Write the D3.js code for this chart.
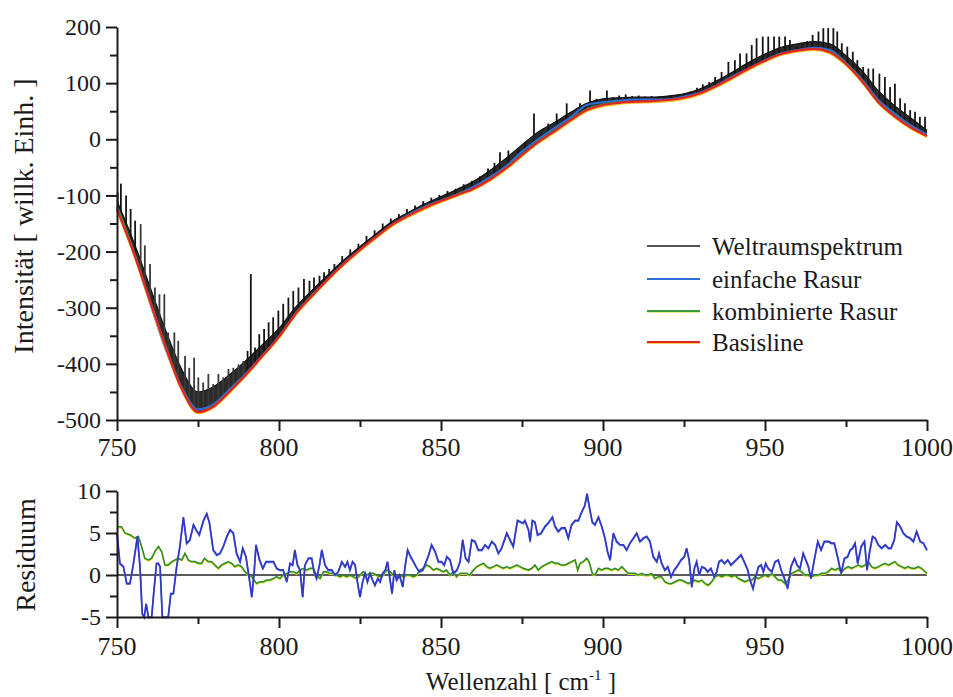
<!DOCTYPE html>
<html><head><meta charset="utf-8">
<script src="https://cdn.jsdelivr.net/npm/d3@7"></script>
</head><body style="margin:0;background:#fff">
<svg id="c" width="953" height="697" font-family="Liberation Serif"></svg>
<script>
// ---------- DATA ----------
const wavenumbers = [750,755,760,765,770,775,780,785,790,795,800,805,810,815,820,825,830,835,840,845,850,855,860,865,870,875,880,885,890,895,900,905,910,915,920,925,930,935,940,945,950,955,960,965,970,975,980,985,990,995,1000];
const basisline = [-125,-200,-285,-370,-445,-486,-475,-448,-418,-385,-352,-312,-280,-250,-222,-197,-174,-152,-136,-122,-110,-99,-88,-72,-52,-28,-5,14,34,52,61,65,67,68,70,74,82,95,110,126,140,152,158,161,155,134,103,66,41,21,6];
const einfacheRasur = [-121,-199,-288,-374,-442,-481,-471,-444,-416,-384,-351,-311,-279,-249,-221,-197,-174,-152,-134,-120,-109,-98,-85,-68,-48,-22,0,20,39,61,66,69,71,71,71,76,83,96,112,126,141,153,159,163,159,136,106,70,46,25,9];
const kombinierteRasur = [-119,-196,-283,-368,-443,-485,-474,-447,-418,-386,-352,-312,-279,-250,-222,-197,-174,-152,-136,-121,-110,-98,-88,-71,-51,-27,-4,15,35,54,62,66,67,68,69,74,81,95,110,126,140,152,158,161,156,135,104,67,42,22,6];
const spektrumBand = [-110,-180,-260,-340,-410,-450,-440,-418,-393,-365,-337,-300,-270,-242,-215,-191,-168,-146,-130,-115,-102,-89,-75,-56,-34,-10,13,30,48,64,72,74,75,75,77,81,90,104,120,137,152,164,170,174,170,149,122,86,60,38,16];

const linienX = [750.2,751.2,752.8,754.2,755.6,757.3,758.6,760.2,761.7,763.1,764.6,765.8,767.7,768.9,771.0,772.3,773.8,775.1,776.6,778.2,779.7,781.3,782.8,784.4,785.9,787.5,789.0,790.3,791.3,792.6,793.9,795.4,796.8,798.2,799.8,801.3,802.9,804.4,806.0,807.7,809.4,810.8,812.5,813.9,815.5,817.1,819.5,822.0,824.5,827.0,829.5,832.0,834.5,837.0,839.5,842.0,844.5,847.0,849.5,852.0,854.5,857.0,859.5,862.0,864.5,866.5,868.2,870.8,873.9,876.0,878.7,881.0,883.1,885.7,887.5,888.8,890.5,892.9,894.5,896.0,898.0,901.2,903.0,905.0,907.0,909.0,911.0,913.0,915.0,917.0,919.0,921.0,923.0,925.0,927.0,929.0,930.8,932.8,934.6,936.6,938.7,940.7,942.3,944.3,945.9,947.4,949.3,951.0,952.8,954.4,956.2,957.7,959.8,961.5,963.0,964.7,966.5,968.0,969.5,971.1,972.3,973.7,975.4,977.1,978.5,980.3,981.9,983.4,985.3,987.0,988.6,990.1,991.7,993.2,994.8,996.3,997.8,999.4];
const linienSpitze = [-95,-79,-100,-124,-145,-151,-189,-222,-264,-276,-276,-344,-344,-359,-386,-407,-389,-424,-433,-418,-436,-418,-424,-409,-407,-401,-395,-377,-240,-371,-347,-338,-326,-317,-305,-293,-282,-270,-264,-249,-252,-246,-243,-237,-231,-222,-208,-196,-186,-172,-162,-150,-141,-133,-124,-118,-110,-104,-99,-92,-88,-80,-74,-66,-52,-42,-23,-20,-18,-5,46,10,28,46,35,64,45,64,60,87,72,87,75,78,80,77,78,76,77,75,77,78,80,82,85,92,98,102,111,120,138,141,153,153,168,180,183,183,183,183,183,177,165,170,175,186,192,198,198,198,192,171,165,156,141,129,126,126,117,111,93,99,73,64,52,49,40,40];

const residEinfachX = [750.0,750.9,752.0,753.0,754.0,755.0,756.3,757.1,757.8,758.4,759.0,759.7,760.7,761.4,762.2,762.8,763.3,764.0,765.1,765.8,766.6,767.4,768.4,769.4,770.5,771.5,772.5,773.6,774.4,775.4,776.7,777.7,778.5,779.7,780.8,781.8,782.8,783.9,784.9,785.9,786.9,788.0,788.8,789.8,790.9,791.6,792.3,792.9,794.0,795.0,796.0,797.0,798.3,799.3,800.3,801.3,802.4,803.4,804.2,804.9,805.7,806.5,807.3,808.0,809.1,810.1,810.8,811.6,812.5,813.2,814.2,815.2,816.3,817.3,818.3,819.4,820.4,821.1,821.9,822.7,823.5,824.2,825.0,825.8,826.6,827.3,828.1,828.9,829.6,830.5,831.2,832.0,832.8,833.5,834.3,834.9,835.6,836.3,837.2,838.2,838.9,839.7,840.6,841.5,842.3,843.3,844.4,845.4,846.2,847.1,848.2,849.2,850.2,851.0,851.8,852.8,853.8,854.9,855.9,856.7,857.6,858.5,859.5,860.5,861.5,862.6,863.6,864.6,865.7,866.7,867.7,868.7,870.3,871.3,872.3,873.6,874.6,875.4,875.9,877.0,877.5,878.2,879.0,879.8,880.9,882.1,883.1,884.4,885.2,886.2,887.2,888.3,889.3,890.3,891.4,892.4,893.4,894.4,895.1,895.7,896.7,897.5,898.6,899.6,900.6,901.4,902.2,903.2,904.2,905.3,906.3,907.3,908.3,909.4,910.4,911.4,912.5,913.5,914.5,915.5,916.6,917.3,918.1,919.1,920.0,921.0,922.0,923.1,924.1,925.1,925.8,926.6,927.4,928.2,928.9,929.7,930.5,931.5,932.3,933.3,934.3,935.1,935.8,936.6,937.5,938.5,939.5,940.5,941.6,942.6,943.6,944.7,945.4,946.3,947.1,948.0,948.8,949.5,950.2,951.0,952.1,953.1,954.1,955.0,956.0,957.0,958.0,959.1,959.9,960.8,961.8,962.6,963.4,964.2,965.2,966.3,967.3,968.3,969.6,970.6,971.4,972.5,973.5,974.5,975.5,976.3,977.0,977.8,978.6,979.7,980.7,981.5,982.3,983.2,984.0,985.0,986.0,987.1,988.1,988.9,989.9,990.7,991.7,992.7,993.7,994.8,995.8,996.8,997.9,998.9,1000.0];
const residEinfach = [5.0,1.4,1.0,-1.0,-1.0,1.2,4.6,1.0,-4.6,-5.0,-3.4,-5.0,-5.0,-1.8,1.4,1.4,1.0,-5.0,-5.0,-5.0,-2.2,-2.2,1.0,3.4,6.9,3.8,4.2,6.0,5.4,4.8,6.5,7.3,6.3,3.0,2.4,2.6,3.4,4.6,5.4,5.0,2.6,1.6,3.2,2.2,-0.6,-2.6,0.2,3.6,1.8,0.8,1.6,1.6,1.6,0.8,0.6,0.6,-0.8,1.4,1.2,3.0,1.2,0.6,-2.6,1.2,2.0,2.0,0.4,-0.4,1.2,3.0,1.2,0.6,0.6,0.0,0.4,1.6,1.0,1.6,0.6,1.6,1.2,-0.8,-2.6,-0.8,0.2,-0.8,0.2,-0.6,-1.2,-0.4,-0.8,0.2,0.6,1.6,-0.6,-2.2,0.6,-0.6,0.0,-1.4,1.0,3.0,2.2,1.6,1.0,0.4,0.6,1.6,2.4,3.6,2.8,1.6,1.6,1.2,2.2,1.8,0.2,0.6,1.6,4.2,2.0,1.6,4.2,4.0,3.0,3.0,3.6,3.2,4.0,3.6,2.6,3.2,5.0,4.2,3.4,6.5,6.3,6.2,6.5,5.4,4.0,6.5,6.3,4.8,5.0,5.8,6.2,6.9,5.8,5.2,5.6,5.6,4.4,6.0,6.5,6.5,7.5,8.3,9.7,8.3,6.3,6.0,6.9,5.8,4.4,2.8,1.8,5.0,4.0,3.6,3.6,3.0,3.8,4.4,5.0,4.0,4.4,4.6,4.0,2.2,1.6,2.6,1.4,0.6,1.0,-0.2,0.6,1.2,1.8,2.2,3.2,1.8,-1.4,0.8,1.6,0.0,1.0,0.8,0.4,0.8,-0.2,0.4,1.6,1.8,1.4,1.8,1.2,1.6,2.0,2.4,1.6,0.6,-0.6,-1.6,-0.2,1.0,1.2,0.4,1.4,0.8,0.4,1.6,1.8,0.6,-0.4,-1.6,1.0,2.0,1.2,0.8,2.6,1.8,1.0,-0.4,1.8,4.0,3.0,4.0,4.0,3.8,3.8,2.0,0.2,2.0,2.2,3.0,3.2,3.8,1.4,3.4,4.0,0.6,2.8,4.6,4.4,3.6,3.2,3.6,3.2,3.2,4.2,6.3,5.8,5.0,4.6,4.4,4.0,5.2,4.0,3.8,3.0];

const residKombiX = [750.0,751.4,752.5,754.0,755.6,756.6,757.6,758.6,759.7,760.7,761.7,762.8,763.8,764.8,765.8,766.9,767.9,768.9,770.0,771.0,772.0,773.0,774.1,775.1,776.1,777.0,778.2,779.2,780.2,781.3,782.3,783.3,784.4,785.4,786.4,787.4,788.5,789.5,790.5,791.6,792.3,793.1,794.1,795.2,796.2,797.2,798.3,799.3,800.3,801.3,802.4,803.4,804.4,805.5,806.5,807.5,808.5,809.6,810.6,811.6,812.7,813.7,814.7,815.7,816.8,817.8,818.8,819.9,820.9,821.9,822.9,824.0,825.0,826.0,827.1,828.1,829.1,830.1,831.2,832.2,833.2,834.3,835.3,836.3,837.3,838.4,839.4,840.4,841.5,842.5,843.5,844.5,845.6,846.6,847.6,848.7,849.7,850.7,851.7,852.8,853.8,854.8,855.9,856.9,857.9,858.9,860.0,861.0,862.0,863.1,864.1,865.1,866.1,867.2,868.2,869.2,870.3,871.3,872.3,873.4,874.4,875.4,877.0,878.0,879.0,880.0,881.1,882.1,883.1,884.2,885.2,886.2,887.2,888.3,889.3,890.3,891.4,892.2,892.9,893.9,895.0,895.7,896.7,897.5,898.6,899.6,900.6,901.6,902.7,903.7,904.7,905.8,906.8,907.8,908.8,909.9,910.9,911.9,913.0,914.0,915.0,916.0,917.1,918.1,919.1,920.2,921.2,922.2,923.3,924.3,925.3,926.3,927.4,928.4,929.4,930.5,931.5,932.5,933.5,934.6,935.6,936.6,937.7,938.7,939.7,940.7,941.8,942.8,943.8,944.9,945.9,946.9,947.9,949.0,950.0,951.0,952.1,953.1,954.1,955.1,956.2,957.2,958.2,959.3,960.3,961.3,962.3,963.4,964.4,965.4,966.5,967.5,968.5,969.5,970.6,971.6,972.6,973.7,974.7,975.7,976.7,977.8,978.8,979.8,980.9,981.9,982.9,983.9,985.0,986.0,987.0,988.1,989.1,990.1,991.1,992.2,993.2,994.2,995.3,996.3,997.3,998.3,1000.0];
const residKombi = [5.75,5.75,5.0,4.8,4.4,4.6,3.4,2.0,1.8,2.0,2.8,3.4,2.8,1.2,1.2,1.6,1.8,2.0,1.8,2.6,1.8,1.6,1.6,1.4,1.4,2.0,1.6,1.6,1.2,0.8,1.2,1.4,1.6,1.4,1.0,1.2,1.0,0.4,0.0,-0.2,-0.6,-1.0,-0.8,-0.8,-0.6,-0.6,-0.4,-0.2,-0.4,0.0,0.2,0.4,0.4,0.2,0.6,0.8,0.6,0.8,0.8,0.0,-0.4,0.4,0.4,0.2,0.2,0.0,-0.2,0.0,-0.2,0.0,-0.2,-0.4,0.0,0.4,0.0,0.2,0.2,0.0,-0.2,0.0,0.6,0.4,0.0,-0.2,0.0,-0.2,0.0,0.0,-0.2,0.0,0.6,0.8,1.2,1.0,0.6,0.8,0.6,0.4,0.6,0.0,0.4,-0.2,0.2,0.2,0.2,0.0,0.6,1.0,1.2,1.4,1.0,0.8,1.0,1.2,1.0,0.8,1.0,0.8,1.0,1.2,1.0,0.8,0.6,0.8,1.2,0.6,1.0,1.2,1.4,1.6,1.4,1.4,1.2,1.2,1.4,1.6,1.8,0.6,1.4,1.6,2.0,1.6,0.2,0.0,0.8,0.6,0.8,0.8,0.6,0.8,0.6,1.0,0.6,0.2,0.2,0.2,0.0,0.2,0.0,0.0,0.2,-0.4,-0.2,-0.2,-0.8,-1.0,-1.0,-0.8,-0.6,-0.6,-0.8,-1.0,-0.8,-0.6,-0.8,-0.6,-1.0,-1.2,-0.8,-0.2,0.0,-0.2,0.0,0.0,-0.2,0.0,-0.4,-0.6,-0.8,-0.6,-0.6,-0.2,-0.4,-0.2,0.0,-0.2,0.2,-0.2,-0.6,-0.6,-1.0,-0.6,0.2,0.4,0.6,0.4,0.0,0.0,-0.2,0.0,0.0,0.2,0.2,0.4,0.8,0.6,0.8,0.4,0.8,1.0,0.8,1.0,1.2,1.0,1.2,1.6,1.0,0.8,1.0,1.2,1.4,1.2,1.4,1.6,1.2,1.0,0.8,1.0,0.8,0.8,1.0,0.8,0.2];

const yTicksTop = [-500,-400,-300,-200,-100,0,100,200];
const yMinorTop = [-450,-350,-250,-150,-50,50,150];
const yTicksBot = [-5,0,5,10];
const yMinorBot = [-2.5,2.5,7.5];
const xTicks = [750,800,850,900,950,1000];
const xMinor = [775,825,875,925,975];
const legendLabels = ["Weltraumspektrum","einfache Rasur","kombinierte Rasur","Basisline"];
const legendColors = ["#1a1a1a","#2f6fdc","#3a9a3a","#e3222c"];

// ---------- DRAW ----------
const FONT = 'Liberation Serif';
const svg = d3.select('#c');
const x = d3.scaleLinear().domain([750,1000]).range([117,927]);
const yT = d3.scaleLinear().domain([-500,200]).range([420,27]);
const yB = d3.scaleLinear().domain([-5,10]).range([617,491]);
const baseAt = d3.scaleLinear().domain(wavenumbers).range(basisline);
const idx = d3.range(wavenumbers.length);

function txt(parent, s, size){
  return parent.append('text').attr('font-family',FONT).style('font-family',FONT)
    .attr('font-size',size).attr('fill','#1a1a1a').text(s);
}

// black spectrum: dense band + lines
svg.append('path')
  .attr('d', d3.area().x(i=>x(wavenumbers[i])).y0(i=>yT(basisline[i])+1).y1(i=>yT(spektrumBand[i])).curve(d3.curveMonotoneX)(idx))
  .attr('fill','#2a2a2a');
svg.append('path')
  .attr('d', d3.line().x(i=>x(wavenumbers[i])).y(i=>yT(spektrumBand[i])).curve(d3.curveMonotoneX)(idx))
  .attr('fill','none').attr('stroke','#111').attr('stroke-width',1.2);
svg.selectAll('line.spike').data(d3.range(linienX.length)).enter().append('line')
  .attr('class','spike')
  .attr('x1',i=>x(linienX[i])).attr('x2',i=>x(linienX[i]))
  .attr('y1',i=>yT(baseAt(linienX[i]))).attr('y2',i=>yT(linienSpitze[i]))
  .attr('stroke',i=> (linienX[i]>756 && linienX[i]<790) ? '#3a3a3a' : '#151515')
  .attr('stroke-width',1.8);

const lineTop = arr => d3.line().x(i=>x(wavenumbers[i])).y(i=>yT(arr[i])).curve(d3.curveMonotoneX)(idx);
svg.append('path').attr('d',lineTop(einfacheRasur)).attr('fill','none').attr('stroke','#2f6fdc').attr('stroke-width',2);
svg.append('path').attr('d',lineTop(kombinierteRasur)).attr('fill','none').attr('stroke','#3a9a3a').attr('stroke-width',1.8);
svg.append('path').attr('d',lineTop(basisline)).attr('fill','none').attr('stroke','#f2c21a').attr('stroke-width',2).attr('transform','translate(0,1.2)');
svg.append('path').attr('d',lineTop(basisline)).attr('fill','none').attr('stroke','#e3222c').attr('stroke-width',2.2);

// residual panel
svg.append('line').attr('x1',x(750)).attr('x2',x(1000)).attr('y1',yB(0)).attr('y2',yB(0)).attr('stroke','#222').attr('stroke-width',1.3);
const gi = d3.range(residKombiX.length);
const kombiLine = d3.line().x(i=>x(residKombiX[i])).y(i=>yB(residKombi[i]));
svg.append('path').attr('d',kombiLine(gi)).attr('fill','none').attr('stroke','#d6dc2c').attr('stroke-width',1.6).attr('transform','translate(0,0.9)');
svg.append('path').attr('d',kombiLine(gi)).attr('fill','none').attr('stroke','#2e8a2e').attr('stroke-width',1.5);
const bi = d3.range(residEinfachX.length);
const einfLine = d3.line().x(i=>x(residEinfachX[i])).y(i=>yB(residEinfach[i]));
svg.append('path').attr('d',einfLine(bi)).attr('fill','none').attr('stroke','#5b8ee6').attr('stroke-width',1.6).attr('transform','translate(0,0.8)');
svg.append('path').attr('d',einfLine(bi)).attr('fill','none').attr('stroke','#3536c4').attr('stroke-width',1.7);

// axes (lines + ticks by d3 axis, labels as own text elements)
function styleAxis(g){
  g.attr('font-family', FONT);
  g.selectAll('.domain').attr('stroke','#1a1a1a').attr('stroke-width',2);
  g.selectAll('.tick line').attr('stroke','#1a1a1a').attr('stroke-width',2);
}
function leftAxis(scale, major, minor){
  const gm = svg.append('g').attr('transform','translate(117,0)')
    .call(d3.axisLeft(scale).tickValues(minor).tickSize(7).tickFormat(''));
  gm.select('.domain').remove();
  gm.selectAll('text').remove();
  styleAxis(gm);
  const g = svg.append('g').attr('transform','translate(117,0)')
    .call(d3.axisLeft(scale).tickValues(major).tickSize(11).tickSizeOuter(0).tickFormat(''));
  g.selectAll('text').remove();
  styleAxis(g);
  const lab = svg.append('g');
  major.forEach(v=>{
    txt(lab, String(v), 24).attr('x',101).attr('y',scale(v)).attr('dy','0.34em').attr('text-anchor','end');
  });
}
function bottomAxis(yPos, labelY){
  const gm = svg.append('g').attr('transform',`translate(0,${yPos})`)
    .call(d3.axisBottom(x).tickValues(xMinor).tickSize(7).tickFormat(''));
  gm.select('.domain').remove();
  gm.selectAll('text').remove();
  styleAxis(gm);
  const g = svg.append('g').attr('transform',`translate(0,${yPos})`)
    .call(d3.axisBottom(x).tickValues(xTicks).tickSize(11).tickSizeOuter(0).tickFormat(''));
  g.selectAll('text').remove();
  styleAxis(g);
  const lab = svg.append('g');
  xTicks.forEach(v=>{
    txt(lab, String(v), 26).attr('x',x(v)).attr('y',yPos+labelY).attr('text-anchor','middle');
  });
}
leftAxis(yT, yTicksTop, yMinorTop);
bottomAxis(420, 36);
leftAxis(yB, yTicksBot, yMinorBot);
bottomAxis(617, 38);

// legend
const lg = svg.append('g');
const rowsY = [246,279,311,342];
legendLabels.forEach((t,i)=>{
  if(i===3) lg.append('line').attr('x1',647).attr('x2',700).attr('y1',rowsY[i]+1).attr('y2',rowsY[i]+1).attr('stroke','#f2c21a').attr('stroke-width',1.6);
  if(i===2) lg.append('line').attr('x1',647).attr('x2',700).attr('y1',rowsY[i]+0.8).attr('y2',rowsY[i]+0.8).attr('stroke','#d6dc2c').attr('stroke-width',1.4);
  lg.append('line').attr('x1',647).attr('x2',700).attr('y1',rowsY[i]).attr('y2',rowsY[i])
    .attr('stroke',legendColors[i]).attr('stroke-width',i===0?1.6:2);
  txt(lg, t, 25).attr('x',712).attr('y',rowsY[i]+9);
});

// axis titles
txt(svg,'Intensität [ willk. Einh. ]',28).attr('transform','translate(33,216) rotate(-90)').attr('text-anchor','middle');
txt(svg,'Residuum',28).attr('transform','translate(35,555) rotate(-90)').attr('text-anchor','middle');
const xt = txt(svg,'',25).attr('x',521).attr('y',690).attr('text-anchor','middle');
xt.append('tspan').text('Wellenzahl [ cm');
xt.append('tspan').attr('dy','-10').attr('font-size',15).text('-1');
xt.append('tspan').attr('dy','10').text(' ]');
</script>
</body></html>
